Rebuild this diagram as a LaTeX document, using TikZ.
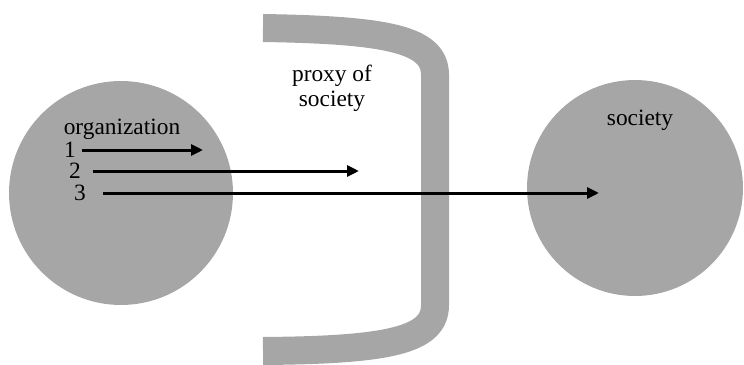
\documentclass[tikz,border=0pt]{standalone}
\usepackage{fontspec}
\setmainfont{Liberation Serif}
\usepackage{tikz}
\usetikzlibrary{arrows.meta, positioning}
\definecolor{blobgray}{HTML}{A6A6A6}

\begin{document}
\begin{tikzpicture}[
    x=0.02cm, y=-0.02cm,
    blob/.style={circle, fill=blobgray, draw=none, inner sep=0pt},
    lbl/.style={font=\fontsize{13.3}{14.2}\selectfont, inner sep=1pt},
    num/.style={font=\fontsize{13.3}{14.2}\selectfont, inner sep=1pt},
    wall/.style={draw=blobgray, line width=0.56cm},
    flow/.style={-{Triangle[length=0.24cm, width=0.22cm]}, line width=0.06cm}
]
\useasboundingbox (0,0) rectangle (744,365);

% the two circles
\node[blob, minimum size=4.48cm] (org) at (121,193) {};
\node[blob, minimum size=4.32cm] (soc) at (635,188) {};

% the bracket in between
\draw[wall] (263,28) .. controls (390,30) and (435,40) .. (435,75)
    -- (435,305) .. controls (435,340) and (390,350) .. (263,351);

% labels
\node[lbl] (orglabel) at (122,129) {organization};
\node[lbl] (soclabel) at (640,120) {society};
\node[lbl, align=center] (proxylabel) at (332,88) {proxy of\\society};

\node[num] (n1) at (70,150) {1};
\node[num] (n2) at (75,171) {2};
\node[num] (n3) at (80,193) {3};

\coordinate (tip1) at (203,150);
\coordinate (tip2) at (359,171);
\coordinate (tip3) at (599,193);

\draw[flow, shorten <=0.08cm] (n1.east) -- (tip1);
\draw[flow, shorten <=0.2cm] (n2.east) -- (tip2);
\draw[flow, shorten <=0.3cm] (n3.east) -- (tip3);

\end{tikzpicture}
\end{document}
